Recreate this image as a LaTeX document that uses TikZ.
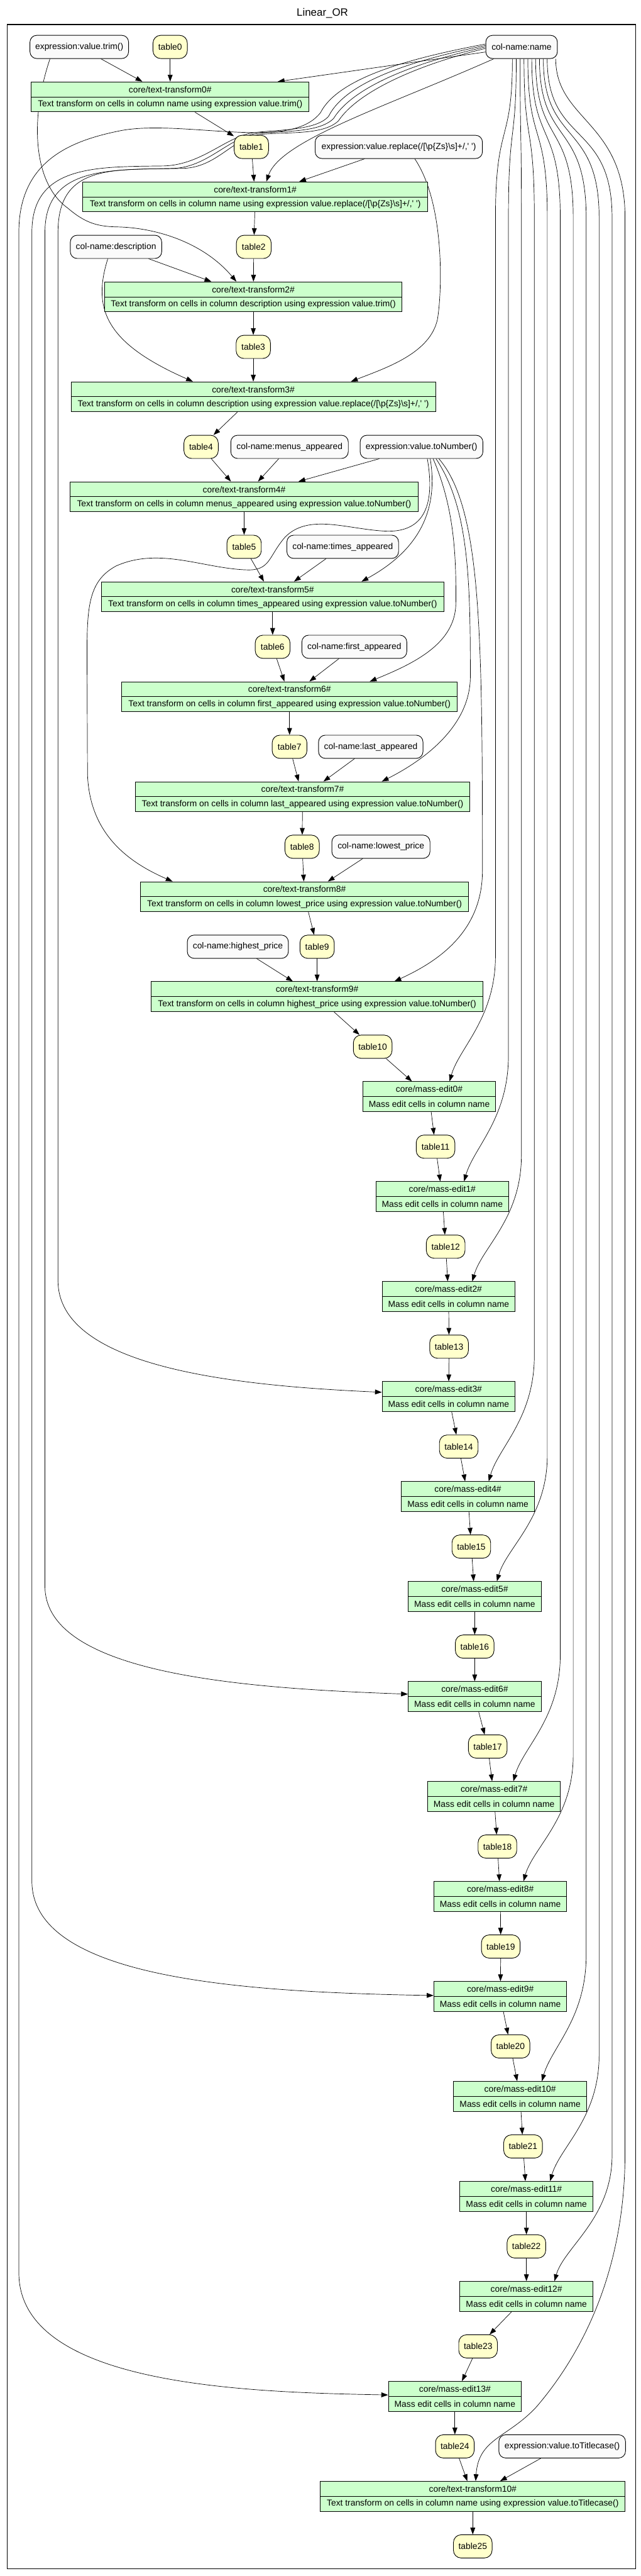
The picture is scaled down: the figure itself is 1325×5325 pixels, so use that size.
\documentclass[tikz,border=0pt]{standalone}
\usepackage{fontspec}
\setmainfont{Liberation Sans}[Ligatures=TeXOff]
\usetikzlibrary{arrows.meta,calc}
\pgfdeclarelayer{edgelayer}
\pgfsetlayers{edgelayer,main}
\definecolor{tblfill}{HTML}{FFFFCC}
\definecolor{opfill}{HTML}{CCFFCC}
\definecolor{parfill}{HTML}{FAFAFA}
\newcommand{\nf}{\fontsize{18}{21}\selectfont}
\newcommand{\opnode}[6]{%
  \node[opbox, minimum width=#4pt] (#1) at (#2,#3) {};
  \draw[opline] (#1.west) -- (#1.east);
  \node[optext] (#1-t) at ([yshift=15.5pt]#1.center) {#5};
  \node[optext] (#1-d) at ([yshift=-15.5pt]#1.center) {#6};
}
\newcommand{\menode}[4]{\opnode{#1}{#2}{#3}{275}{core/mass-edit#4\#}{Mass edit cells in column name}}
\begin{document}
\begin{tikzpicture}[x=1pt,y=-1pt,
  parnode/.style={draw=black, line width=1.2pt, rounded corners=14pt, fill=parfill, minimum height=48pt, inner sep=0pt, font=\nf},
  tblnode/.style={parnode, rounded corners=16pt, fill=tblfill},
  opbox/.style={draw=black, line width=1.3pt, fill=opfill, minimum height=62pt, inner sep=0pt},
  optext/.style={font=\nf, inner sep=0pt},
  opline/.style={line width=1.3pt},
  conn/.style={line width=0.9pt, -{Triangle[length=14pt,width=10pt]}},
  framebox/.style={line width=2pt}]
\useasboundingbox (0,0) rectangle (1325,5325);
\node[font=\fontsize{22}{26}\selectfont] (title) at (667,27) {Linear\_OR};
\draw[framebox] (15,51) rectangle (1315,5310);

% parameter and table nodes
\node[parnode, minimum width=204pt] (exptrim) at (164,97) {expression:value.trim()};
\node[tblnode, minimum width=71pt] (table0) at (352,97) {table0};
\node[parnode, minimum width=148pt] (colname) at (1079,97) {col-name:name};
\opnode{tt0}{352}{200.3}{575}{core/text-transform0\#}{Text transform on cells in column name using expression value.trim()}
\node[tblnode, minimum width=71pt] (table1) at (520,303.7) {table1};
\node[parnode, minimum width=346pt] (expreplace) at (825,303.7) {expression:value.replace(/[\textbackslash p\{Zs\}\textbackslash s]+/,' ')};
\opnode{tt1}{528}{407}{714}{core/text-transform1\#}{Text transform on cells in column name using expression value.replace(/[\textbackslash p\{Zs\}\textbackslash s]+/,' ')}
\node[tblnode, minimum width=72pt] (table2) at (525,510.3) {table2};
\node[parnode, minimum width=189pt] (coldesc) at (240,510.3) {col-name:description};
\opnode{tt2}{524}{613.7}{616}{core/text-transform2\#}{Text transform on cells in column description using expression value.trim()}
\node[tblnode, minimum width=71pt] (table3) at (524,717) {table3};
\opnode{tt3}{524}{820.3}{754}{core/text-transform3\#}{Text transform on cells in column description using expression value.replace(/[\textbackslash p\{Zs\}\textbackslash s]+/,' ')}
\node[tblnode, minimum width=71pt] (table4) at (416,923.7) {table4};
\node[parnode, minimum width=243pt] (colmenus) at (599,923.7) {col-name:menus\_appeared};
\node[parnode, minimum width=254pt] (exptonum) at (872,923.7) {expression:value.toNumber()};
\opnode{tt4}{505}{1027}{720}{core/text-transform4\#}{Text transform on cells in column menus\_appeared using expression value.toNumber()}
\node[tblnode, minimum width=71pt] (table5) at (505,1130.3) {table5};
\node[parnode, minimum width=231pt] (coltimes) at (709,1130.3) {col-name:times\_appeared};
\opnode{tt5}{564}{1233.7}{708}{core/text-transform5\#}{Text transform on cells in column times\_appeared using expression value.toNumber()}
\node[tblnode, minimum width=72pt] (table6) at (564,1337) {table6};
\node[parnode, minimum width=217pt] (colfirst) at (733,1337) {col-name:first\_appeared};
\opnode{tt6}{599}{1440.3}{694}{core/text-transform6\#}{Text transform on cells in column first\_appeared using expression value.toNumber()}
\node[tblnode, minimum width=72pt] (table7) at (599,1543.7) {table7};
\node[parnode, minimum width=216pt] (collast) at (767,1543.7) {col-name:last\_appeared};
\opnode{tt7}{626}{1647}{692}{core/text-transform7\#}{Text transform on cells in column last\_appeared using expression value.toNumber()}
\node[tblnode, minimum width=71pt] (table8) at (625,1750.3) {table8};
\node[parnode, minimum width=203pt] (collowest) at (788,1750.3) {col-name:lowest\_price};
\opnode{tt8}{630}{1853.7}{678}{core/text-transform8\#}{Text transform on cells in column lowest\_price using expression value.toNumber()}
\node[parnode, minimum width=209pt] (colhighest) at (492,1957) {col-name:highest\_price};
\node[tblnode, minimum width=71pt] (table9) at (656,1957) {table9};
\opnode{tt9}{656}{2060.3}{686}{core/text-transform9\#}{Text transform on cells in column highest\_price using expression value.toNumber()}
\node[tblnode, minimum width=80pt] (table10) at (771,2163.7) {table10};
\menode{me0}{888}{2267}{0}
\node[tblnode, minimum width=80pt] (table11) at (901,2370.3) {table11};
\menode{me1}{915}{2473.7}{1}
\node[tblnode, minimum width=80pt] (table12) at (922,2577) {table12};
\menode{me2}{928}{2680.3}{2}
\node[tblnode, minimum width=80pt] (table13) at (929,2783.7) {table13};
\menode{me3}{928}{2887}{3}
\node[tblnode, minimum width=80pt] (table14) at (949,2990.3) {table14};
\menode{me4}{968}{3093.7}{4}
\node[tblnode, minimum width=80pt] (table15) at (975,3197) {table15};
\menode{me5}{982}{3300.3}{5}
\node[tblnode, minimum width=80pt] (table16) at (982,3403.7) {table16};
\menode{me6}{982}{3507}{6}
\node[tblnode, minimum width=80pt] (table17) at (1009,3610.3) {table17};
\menode{me7}{1022}{3713.7}{7}
\node[tblnode, minimum width=80pt] (table18) at (1029,3817) {table18};
\menode{me8}{1035}{3920.3}{8}
\node[tblnode, minimum width=80pt] (table19) at (1036,4023.7) {table19};
\menode{me9}{1035}{4127}{9}
\node[tblnode, minimum width=80pt] (table20) at (1056,4230.3) {table20};
\menode{me10}{1076}{4333.7}{10}
\node[tblnode, minimum width=80pt] (table21) at (1082,4437) {table21};
\menode{me11}{1089}{4540.3}{11}
\node[tblnode, minimum width=80pt] (table22) at (1089,4643.7) {table22};
\menode{me12}{1089}{4747}{12}
\node[tblnode, minimum width=80pt] (table23) at (989,4850.3) {table23};
\menode{me13}{941}{4953.7}{13}
\node[tblnode, minimum width=80pt] (table24) at (941,5057) {table24};
\node[parnode, minimum width=262pt] (exptitle) at (1163,5057) {expression:value.toTitlecase()};
\opnode{tt10}{978}{5160.3}{631}{core/text-transform10\#}{Text transform on cells in column name using expression value.toTitlecase()}
\node[tblnode, minimum width=80pt] (table25) at (978,5263.7) {table25};

\begin{pgfonlayer}{edgelayer}
% straight connectors
\foreach \a/\b in {exptrim/tt0, table0/tt0, colname/tt0, tt0/table1, table1/tt1, expreplace/tt1,
  tt1/table2, table2/tt2, coldesc/tt2, tt2/table3, table3/tt3, tt3/table4,
  table4/tt4, colmenus/tt4, exptonum/tt4, tt4/table5, table5/tt5, coltimes/tt5,
  tt5/table6, table6/tt6, colfirst/tt6, tt6/table7, table7/tt7, collast/tt7,
  tt7/table8, table8/tt8, collowest/tt8, tt8/table9, table9/tt9, colhighest/tt9,
  tt9/table10, table10/me0, me0/table11, table11/me1, me1/table12, table12/me2,
  me2/table13, table13/me3, me3/table14, table14/me4, me4/table15, table15/me5,
  me5/table16, table16/me6, me6/table17, table17/me7, me7/table18, table18/me8,
  me8/table19, table19/me9, me9/table20, table20/me10, me10/table21, table21/me11,
  me11/table22, table22/me12, me12/table23, table23/me13, me13/table24,
  table24/tt10, exptitle/tt10, tt10/table25}
  \draw[conn] (\a) -- (\b);

% curved connectors
\draw[conn] ([xshift=17pt]colname.south west) .. controls (800,220) and (580,290) .. ([xshift=23pt]tt1.north);
\draw[conn] ([xshift=42pt]exptrim.south west) .. controls (60,250) and (70,380) .. (140,430) .. controls (175,460) and (200,468) .. (240,469) .. controls (320,470) and (420,500) .. ([xshift=-35pt]tt2.north);
\draw[conn] ([xshift=-17pt]coldesc.south) .. controls (190,640) and (220,710) .. ([xshift=-125pt]tt3.north);
\draw[conn] ([xshift=33pt]expreplace.south) .. controls (920,420) and (915,600) .. (905,660) .. controls (890,730) and (800,760) .. ([xshift=202pt]tt3.north);
\draw[conn] ([xshift=18pt]exptonum.south) .. controls (905,1040) and (880,1130) .. ([xshift=184pt]tt5.north);
\draw[conn] ([xshift=24pt]exptonum.south) .. controls (940,1050) and (944,1150) .. (943,1250) .. controls (940,1330) and (860,1370) .. ([xshift=166pt]tt6.north);
\draw[conn] ([xshift=30pt]exptonum.south) .. controls (970,1050) and (973,1200) .. (973,1400) .. controls (972,1500) and (880,1570) .. ([xshift=164pt]tt7.north);
\draw[conn] ([xshift=36pt]exptonum.south) .. controls (995,1050) and (998,1300) .. (998,1800) .. controls (998,1930) and (900,1990) .. ([xshift=160pt]tt9.north);
\draw[conn] ([xshift=12pt]exptonum.south) .. controls (900,1040) and (880,1100) .. (800,1098) .. controls (720,1095) and (640,1060) .. (590,1110) .. controls (555,1150) and (560,1180) .. (510,1178) .. controls (420,1175) and (330,1130) .. (240,1170) .. controls (185,1200) and (180,1250) .. (180,1350) -- (181,1600) .. controls (185,1720) and (260,1780) .. ([xshift=-273pt]tt8.north);

% col-name:name, left bundle
\draw[conn] ([yshift=6pt]colname.west) .. controls (850,120) and (700,160) .. (663,233) .. controls (640,262) and (600,272) .. (544,274) .. controls (450,276) and (330,255) .. (250,270) .. controls (150,290) and (39,330) .. (39,480) -- (39,4700) .. controls (42,4930) and (500,4945) .. ([yshift=3pt]me13.west);
\draw[conn] ([yshift=3pt]colname.west) .. controls (850,125) and (715,170) .. (680,240) .. controls (655,270) and (575,268) .. (527,274) .. controls (470,280) and (420,340) .. (340,343) .. controls (200,345) and (66,340) .. (66,480) -- (66,3890) .. controls (68,4090) and (500,4118) .. ([yshift=2pt]me9.west);
\draw[conn] (colname.west) .. controls (855,130) and (730,180) .. (690,245) .. controls (660,275) and (585,270) .. (532,276) .. controls (475,283) and (430,345) .. (360,348) .. controls (230,352) and (93,342) .. (93,480) -- (93,3280) .. controls (95,3460) and (500,3490) .. ([yshift=5pt]me6.west);
\draw[conn] ([yshift=-3pt]colname.west) .. controls (860,135) and (740,190) .. (700,250) .. controls (668,280) and (595,272) .. (538,278) .. controls (480,286) and (450,345) .. (380,348) .. controls (240,352) and (120,335) .. (120,480) -- (120,2650) .. controls (124,2830) and (500,2865) .. ([yshift=9pt]me3.west);

% col-name:name, right bundle
\foreach \i/\tgt/\dx in {0/me0/42, 1/me1/45, 2/me2/49, 3/me4/43, 4/me5/46, 5/me7/40, 6/me8/48, 7/me10/45, 8/me11/49, 9/me12/58}{
  \pgfmathsetmacro{\sx}{-19+8*\i}
  \pgfmathsetmacro{\xv}{1025+26.8*\i}
  \path ([xshift=\dx pt]\tgt.north) coordinate (tp\i);
  \path ([xshift=\sx pt]colname.south) coordinate (sp\i);
  \draw[conn] (sp\i) .. controls ($(sp\i)+(0,180)$) and (\xv,250) .. (\xv,450) -- ($(tp\i -| \xv,0)+(0,-260)$) .. controls ($(tp\i -| \xv,0)+(0,-130)$) and ($(tp\i)+(20,-70)$) .. (tp\i);
}
\draw[conn] ([xshift=-4pt]colname.south east) .. controls (1150,250) and (1293,250) .. (1293,450) -- (1293,4450) .. controls (1293,4700) and (1200,4870) .. (1110,4975) .. controls (1050,5040) and (990,5040) .. ([xshift=6pt]tt10.north);
\end{pgfonlayer}
\end{tikzpicture}
\end{document}
